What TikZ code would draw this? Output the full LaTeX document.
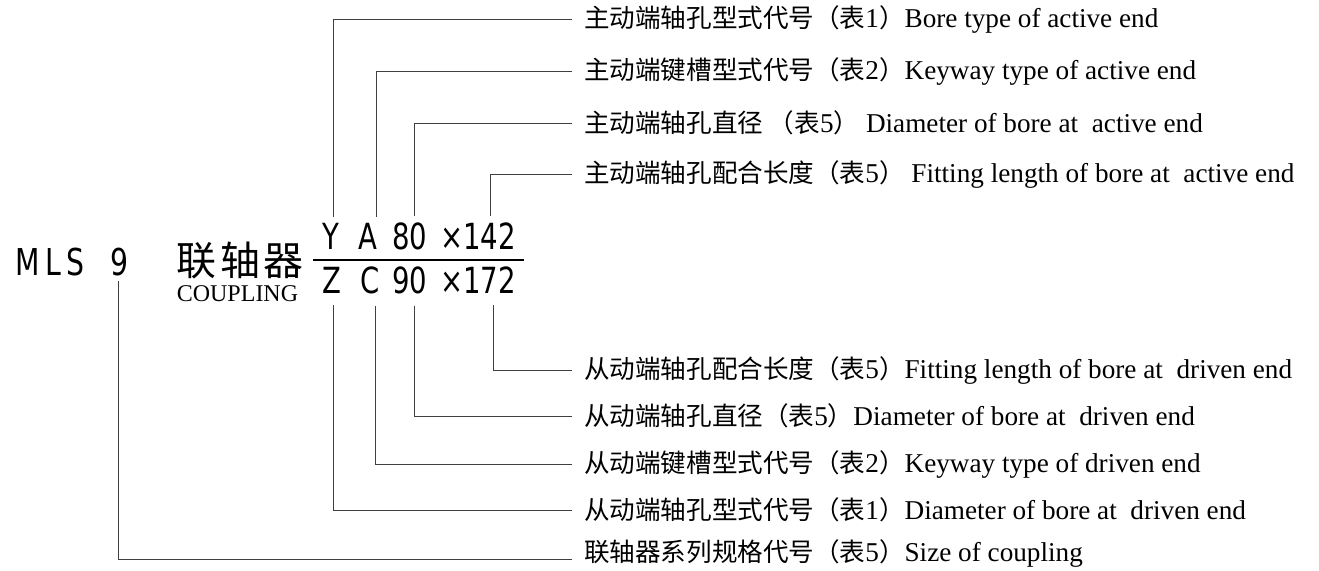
\documentclass[tikz,border=0pt]{standalone}
\usepackage{fontspec}
\setmainfont{Liberation Serif}
\newfontfamily\cjk[Scale=0.94]{Noto Sans CJK SC}
\newfontfamily\cond[FakeStretch=0.85]{DejaVu Sans Condensed}
\newfontfamily\condsp[FakeStretch=0.85,LetterSpace=14]{DejaVu Sans Condensed}
\newcommand{\lbl}[3]{{\cjk #1（表}#2{\cjk ）}#3}
\tikzset{
	lead/.style={draw=black!75, line width=0.9pt},
	lbltext/.style={anchor=west, inner xsep=12pt, inner ysep=0pt, font=\fontsize{27.2}{30}\selectfont},
	code/.style={anchor=base, inner sep=0pt, font=\cond\fontsize{36}{40}\selectfont},
}
\begin{document}
\begin{tikzpicture}[x=1pt, y=-1pt]
	\useasboundingbox (0,0) rectangle (1319,570);
	\node[anchor=base, inner sep=0pt, font=\condsp\fontsize{37}{40}\selectfont] (mls)at(50, 275) {MLS};
	\node[anchor=base, inner sep=0pt, font=\cond\fontsize{37}{40}\selectfont] (size)at(119.5, 275) {9};
	\node[anchor=base, inner sep=0pt, font=\cjk\fontsize{42.5}{44}\selectfont] (name)at(240, 275) {联\hspace{4pt}轴\hspace{4pt}器};
	\node[anchor=base, inner sep=0pt, font=\fontsize{24}{26}\selectfont] (eng)at(237.5, 301) {COUPLING};
	\node[code] (yA)at(331, 249) {Y};
	\node[code] (kA)at(367.5, 249) {A};
	\node[code] (dA)at(410, 249) {80};
	\node[code] (lA)at(478, 249) {×142};
	\node[code] (yB)at(332, 293) {Z};
	\node[code] (kB)at(370, 293) {C};
	\node[code] (dB)at(410, 293) {90};
	\node[code] (lB)at(478, 293) {×172};
	\draw[line width=2pt] (313, 260) -- (524, 260);
	\node[lbltext] (a1)at(572, 19) {\lbl{主动端轴孔型式代号}{1}{Bore type of active end}};
	\node[lbltext] (a2)at(572, 71) {\lbl{主动端键槽型式代号}{2}{Keyway type of active end}};
	\node[lbltext] (a3)at(572, 123) {\lbl{主动端轴孔直径\ }{5}{\ Diameter of bore at~ active end}};
	\node[lbltext] (a4)at(572, 174) {\lbl{主动端轴孔配合长度}{5}{\ Fitting length of bore at~ active end}};
	\node[lbltext] (b4)at(572, 370) {\lbl{从动端轴孔配合长度}{5}{Fitting length of bore at~ driven end}};
	\node[lbltext] (b3)at(572, 416) {\lbl{从动端轴孔直径}{5}{Diameter of bore at~ driven end}};
	\node[lbltext] (b2)at(572, 464) {\lbl{从动端键槽型式代号}{2}{Keyway type of driven end}};
	\node[lbltext] (b1)at(572, 510) {\lbl{从动端轴孔型式代号}{1}{Diameter of bore at~ driven end}};
	\node[lbltext] (b0)at(572, 553) {\lbl{联轴器系列规格代号}{5}{Size of coupling}};
	\draw[lead] ([xshift=2pt, yshift=6pt]yA.north) |- (a1.west);
	\draw[lead] ([xshift=8.5pt, yshift=6pt]kA.north) |- (a2.west);
	\draw[lead] ([xshift=4pt, yshift=6pt]dA.north) |- (a3.west);
	\draw[lead] ([xshift=12pt, yshift=6pt]lA.north) |- (a4.west);
	\draw[lead] ([xshift=1pt, yshift=-12pt]yB.south) |- (b1.west);
	\draw[lead] ([xshift=5pt, yshift=-12pt]kB.south) |- (b2.west);
	\draw[lead] ([xshift=4pt, yshift=-12pt]dB.south) |- (b3.west);
	\draw[lead] ([xshift=15pt, yshift=-12pt]lB.south) |- (b4.west);
	\draw[lead] ([xshift=-1.5pt, yshift=-5pt]size.south) |- ([yshift=-6pt]b0.west);
\end{tikzpicture}
\end{document}
